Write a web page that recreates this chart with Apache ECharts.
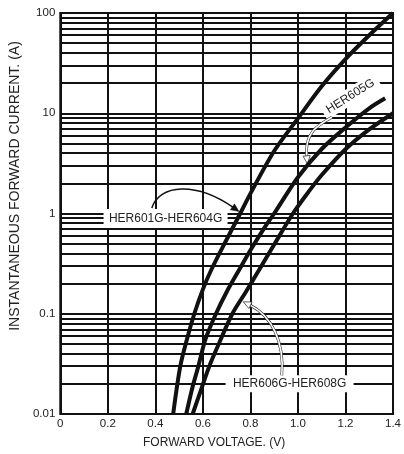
<!DOCTYPE html>
<html><head><meta charset="utf-8">
<script src="https://cdn.jsdelivr.net/npm/echarts@6/dist/echarts.min.js"></script>
<style>html,body{margin:0;padding:0;background:#fff}#c{width:404px;height:454px}</style>
</head><body><div id="c"></div>
<script>
// ---- data ----
const xTickLabels = ['0','0.2','0.4','0.6','0.8','1.0','1.2','1.4'];
const yTickLabels = ['0.01','0.1','1','10','100'];
const seriesNames = ['HER601G-HER604G','HER605G','HER606G-HER608G'];

// HER601G-HER604G
const voltsA = [0.475,0.505,0.535,0.564,0.600,0.634,0.700,0.757,0.800,0.900,1.000,1.100,1.200,1.300,1.400];
const ampsA  = [0.01, 0.03, 0.058,0.10, 0.175,0.27, 0.55, 1.0,  1.58, 4.2,  8.9,  18.6, 34.7, 60,   100];
// HER605G
const voltsB = [0.530,0.555,0.581,0.610,0.655,0.700,0.751,0.800,0.862,0.900,1.000,1.100,1.200,1.300,1.367];
const ampsB  = [0.01, 0.018,0.03, 0.055,0.10, 0.165,0.27, 0.43, 0.74, 1.0,  2.3,  4.4,  7.2,  11.2, 14.1];
// HER606G-HER608G
const voltsC = [0.557,0.590,0.627,0.670,0.724,0.780,0.835,0.900,0.979,1.050,1.100,1.200,1.300,1.400];
const ampsC  = [0.01, 0.0168,0.03,0.052,0.10, 0.164,0.27, 0.49, 1.0,  1.71, 2.42, 4.37, 6.9,  10];

// minor (sub-decade) grid values
const decadeStarts = [0.01,0.1,1,10];
const minorMultiples = [2,3,4,5,6,7,8,9];

// ---- chart ----
const FONT = '"Liberation Sans", Arial, sans-serif';
const INK = '#111';
const chart = echarts.init(document.getElementById('c'), null, {renderer:'canvas'});

const pairs = (xs, ys) => xs.map((x, i) => [x, ys[i]]);
const minorVals = [];
decadeStarts.forEach(d => minorMultiples.forEach(m => minorVals.push(+(d * m).toPrecision(3))));

const curveSeries = [[voltsA, ampsA],[voltsB, ampsB],[voltsC, ampsC]].map((d, k) => ({
  name: seriesNames[k], type:'line', data: pairs(d[0], d[1]), smooth: 0.3,
  showSymbol:false, symbol:'none', z:10, silent:true,
  lineStyle:{color:INK, width:4, cap:'butt'}
}));

chart.setOption({
  animation:false,
  backgroundColor:'#fff',
  grid:{left:57, right:9, top:13, bottom:37, show:true, borderColor:INK, borderWidth:2, backgroundColor:'transparent'},
  xAxis:{
    type:'value', min:0, max:1.4, interval:0.2,
    name:'FORWARD VOLTAGE. (V)', nameLocation:'middle', nameGap:23,
    nameTextStyle:{fontFamily:FONT, fontSize:12, color:'#222', padding:[0,25,0,0]},
    axisLine:{show:false}, axisTick:{show:false},
    axisLabel:{fontFamily:FONT, fontSize:11.5, color:'#222', margin:4,
      formatter: v => xTickLabels[Math.round(v / 0.2)]},
    splitLine:{show:true, lineStyle:{color:INK, width:2}}
  },
  yAxis:{
    type:'log', logBase:10, min:0.01, max:100,
    name:'INSTANTANEOUS FORWARD CURRENT. (A)', nameLocation:'middle', nameGap:29,
    nameTextStyle:{fontFamily:FONT, fontSize:14, color:'#222', padding:[0,0,0,55]},
    axisLine:{show:false}, axisTick:{show:false},
    axisLabel:{fontFamily:FONT, fontSize:11.5, color:'#222', margin:5,
      formatter: v => yTickLabels[Math.round(Math.log10(v)) + 2]},
    splitLine:{show:true, lineStyle:{color:INK, width:2}}
  },
  series:[{
    type:'line', data:[], z:1, silent:true, symbol:'none',
    markLine:{silent:true, symbol:['none','none'], animation:false,
      label:{show:false}, emphasis:{disabled:true},
      lineStyle:{color:INK, width:2, type:'solid'},
      data: minorVals.map(v => ({yAxis:v}))}
  }].concat(curveSeries)
});

// ---- annotations (anchored in data coordinates) ----
const labelBoxes = [
  {text: seriesNames[0], at:[0.443, 0.892], size:[124, 19], rot:0},
  {text: seriesNames[1], at:[1.221, 14.8],  size:[64, 16],  rot:32},
  {text: seriesNames[2], at:[0.965, 0.02005], size:[128, 17], rot:0}
];
const arrows = [
  {pts:[[0.385,1.134],[0.418,1.98],[0.572,2.07],[0.752,1.05]], white:false},
  {pts:[[1.143,9.13],[1.081,7.6],[1.027,6.34],[1.040,3.13]], white:true},
  {pts:[[0.932,0.0243],[0.944,0.0516],[0.891,0.0955],[0.770,0.1315]], white:true}
];

const px = p => chart.convertToPixel({gridIndex:0}, p);
const gfx = [];
labelBoxes.forEach(b => {
  const c = px(b.at);
  gfx.push({type:'group', x:c[0], y:c[1], rotation:b.rot * Math.PI / 180, silent:true, children:[
    {type:'rect', z:5, shape:{x:-b.size[0]/2, y:-b.size[1]/2, width:b.size[0], height:b.size[1]}, style:{fill:'#fff'}},
    {type:'text', z:6, x:0, y:0, style:{text:b.text, font:'12px ' + FONT, fill:'#222',
      align:'center', verticalAlign:'middle', textAlign:'center', textVerticalAlign:'middle'}}
  ]});
});
arrows.forEach(a => {
  const p = a.pts.map(px);
  const tip = p[3];
  let dx = p[3][0] - p[2][0], dy = p[3][1] - p[2][1];
  const len = Math.hypot(dx, dy); dx /= len; dy /= len;
  const L = 8, W = 3.6;
  const base = [tip[0] - dx * L, tip[1] - dy * L];
  const nx = -dy, ny = dx;
  const head = [tip, [base[0] + nx * W, base[1] + ny * W], [base[0] - nx * W, base[1] - ny * W]];
  const shape = {x1:p[0][0], y1:p[0][1], cpx1:p[1][0], cpy1:p[1][1], cpx2:p[2][0], cpy2:p[2][1],
    x2:base[0] + dx * 1, y2:base[1] + dy * 1};
  if (a.white) {
    gfx.push({type:'bezierCurve', z:7, silent:true, shape, style:{stroke:'#333', lineWidth:2.8, fill:'none'}});
    gfx.push({type:'bezierCurve', z:8, silent:true, shape, style:{stroke:'#fff', lineWidth:1.6, fill:'none'}});
    gfx.push({type:'polygon', z:9, silent:true, shape:{points:head}, style:{fill:'#fff', stroke:'#333', lineWidth:0.8}});
  } else {
    gfx.push({type:'bezierCurve', z:7, silent:true, shape, style:{stroke:INK, lineWidth:1.5, fill:'none'}});
    gfx.push({type:'polygon', z:9, silent:true, shape:{points:head}, style:{fill:INK, stroke:INK, lineWidth:0.5}});
  }
});
chart.setOption({graphic: gfx});
</script>
</body></html>
